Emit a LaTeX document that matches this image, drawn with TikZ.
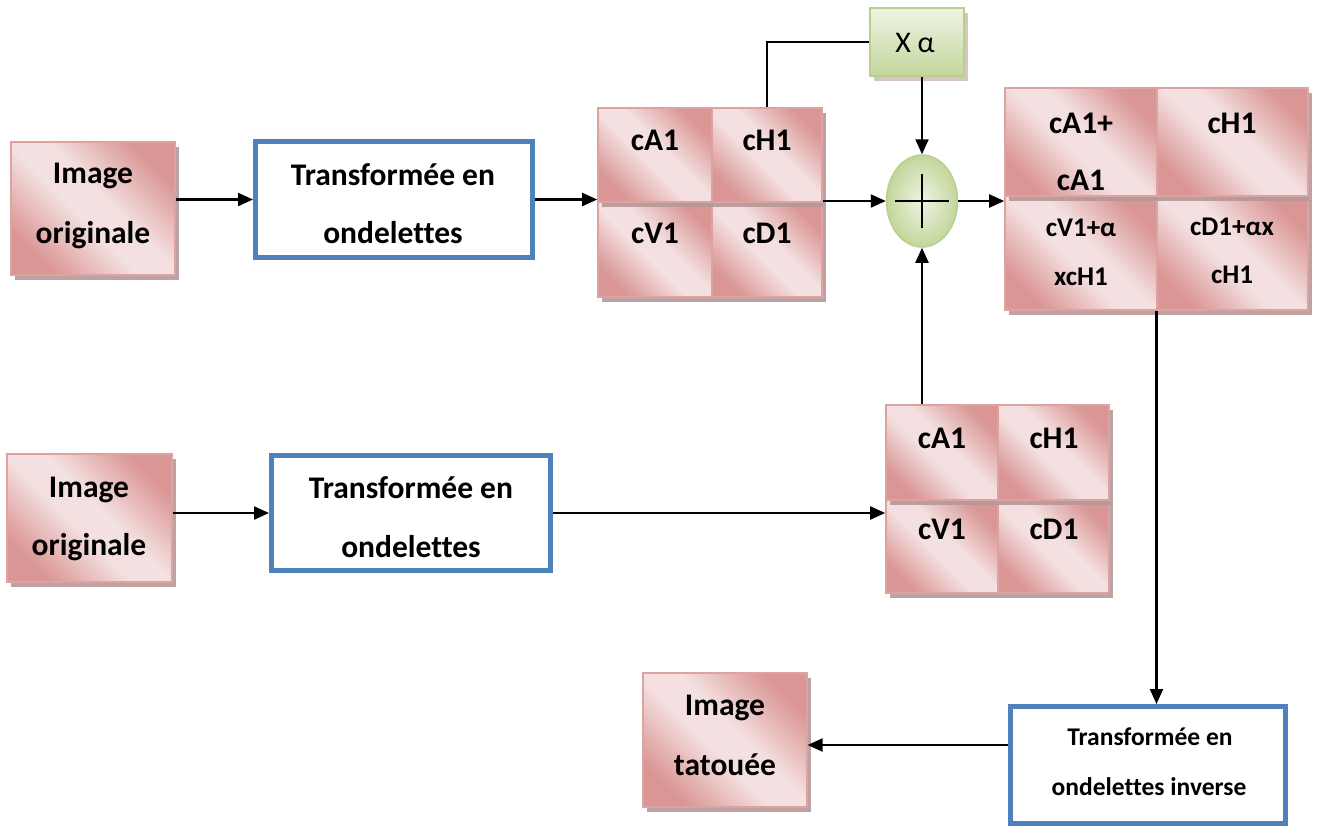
\documentclass[tikz,border=0pt]{standalone}
\usepackage{fontspec}
\setmainfont{Carlito}[Ligatures={NoCommon}]
\usetikzlibrary{shapes.geometric,shadows,fit,arrows.meta}
\definecolor{pinkdark}{HTML}{D99694}
\definecolor{pinklight}{HTML}{F4E0E0}
\definecolor{pinkborder}{HTML}{DDA3A2}
\definecolor{shadowc}{HTML}{B59898}
\definecolor{boxblue}{HTML}{4F81BD}
\definecolor{greenlight}{HTML}{EEF4E3}
\definecolor{greendark}{HTML}{C3D69B}
\definecolor{greenborder}{HTML}{B9CF8E}
\pgfdeclareverticalshading{pinksh}{100bp}{color(0bp)=(pinkdark); color(25bp)=(pinkdark); color(45bp)=(pinklight); color(55bp)=(pinklight); color(75bp)=(pinkdark); color(100bp)=(pinkdark)}
\begin{document}
\begin{tikzpicture}[x=1pt,y=-1pt,
  pinkbox/.style={draw=pinkborder, line width=1.2pt, shading=pinksh, shading angle=-45,
    drop shadow={shadow xshift=4pt, shadow yshift=-5pt, fill=shadowc, opacity=0.9}, inner sep=0pt},
  greenbox/.style={draw=greenborder, line width=1.2pt, top color=greenlight, bottom color=greendark,
    drop shadow={shadow xshift=4pt, shadow yshift=-5pt, fill=shadowc!70, opacity=0.8}, inner sep=0pt},
  bluebox/.style={draw=boxblue, line width=5pt, fill=white, inner sep=0pt},
  big/.style={font=\fontsize{31.5}{36}\selectfont\bfseries, text height=20.3pt, text depth=0pt, inner sep=0pt},
  mid/.style={font=\fontsize{27}{32}\selectfont\bfseries, text height=17.4pt, text depth=0pt, inner sep=0pt},
  small/.style={font=\fontsize{25.5}{30}\selectfont\bfseries, text height=16.4pt, text depth=0pt, inner sep=0pt},
  xalbl/.style={font=\fontsize{30}{34}\selectfont, text height=19.3pt, text depth=0pt, inner sep=0pt},
  plusnode/.style={ellipse, draw=greenborder, line width=1.5pt, inner color=greenlight, outer color=greendark,
    minimum width=71pt, minimum height=92pt, inner sep=0pt,
    path picture={\draw[black, line width=1.6pt] ([xshift=-27pt]path picture bounding box.center) -- ([xshift=27pt]path picture bounding box.center);
                  \draw[black, line width=1.6pt] ([yshift=-27pt]path picture bounding box.center) -- ([yshift=27pt]path picture bounding box.center);}},
  arr/.style={line width=2.2pt, -{Triangle[length=15pt,width=13pt]}},
  link/.style={line width=2.2pt},
]
\useasboundingbox[fill=white] (0,0) rectangle (1319,828);

% ---------- first row ----------
\node[pinkbox, fit={(11,142)(175,275)}] (img1) {};
\node[big] (img1a) at (93,173) {Image};
\node[big] (img1b) at (93,233) {originale};

\node[bluebox, fit={(255.5,141.5)(532.5,257.5)}] (t1) {};
\node[big] (t1a) at (393,175) {Transformée en};
\node[big] (t1b) at (393,233) {ondelettes};

\node[pinkbox, fit={(598,202)(712,297)}] (g1c) {};
\node[pinkbox, fit={(712,202)(822,297)}] (g1d) {};
\node[pinkbox, fit={(598,108)(712,202)}] (g1a) {};
\node[pinkbox, fit={(712,108)(822,202)}] (g1b) {};
\node[fit=(g1a)(g1d), inner sep=0pt] (g1) {};
\node[big] (g1at) at (655,140) {cA1};
\node[big] (g1bt) at (767,140) {cH1};
\node[big] (g1ct) at (655,233) {cV1};
\node[big] (g1dt) at (767,233) {cD1};

\node[greenbox, fit={(870,8)(964,76)}] (xa) {};
\node[xalbl] (xat) at (915,43) {X α};

\node[plusnode] (plus) at (922,201) {};

\node[pinkbox, fit={(1005,196)(1157,310)}] (rgc) {};
\node[pinkbox, fit={(1157,196)(1308,310)}] (rgd) {};
\node[pinkbox, fit={(1005,88)(1157,196)}] (rga) {};
\node[pinkbox, fit={(1157,88)(1308,196)}] (rgb) {};
\node[fit=(rga)(rgd), inner sep=0pt] (rg) {};
\node[big] (rgat1) at (1081,123) {cA1+};
\node[big] (rgat2) at (1081,180) {cA1};
\node[big] (rgbt) at (1232,123) {cH1};
\node[mid] (rgct1) at (1081,228) {cV1+α};
\node[mid] (rgct2) at (1081,277) {xcH1};
\node[mid] (rgdt1) at (1232,227) {cD1+αx};
\node[mid] (rgdt2) at (1232,275) {cH1};

% ---------- second row ----------
\node[pinkbox, fit={(7,454)(172,582)}] (img2) {};
\node[big] (img2a) at (89,487) {Image};
\node[big] (img2b) at (89,545) {originale};

\node[bluebox, fit={(271.5,455.5)(550.5,570.5)}] (t2) {};
\node[big] (t2a) at (411,488) {Transformée en};
\node[big] (t2b) at (411,547) {ondelettes};

\node[pinkbox, fit={(886,500)(998,593)}] (g2c) {};
\node[pinkbox, fit={(998,500)(1109,593)}] (g2d) {};
\node[pinkbox, fit={(886,405)(998,500)}] (g2a) {};
\node[pinkbox, fit={(998,405)(1109,500)}] (g2b) {};
\node[fit=(g2a)(g2d), inner sep=0pt] (g2) {};
\node[big] (g2at) at (942,438) {cA1};
\node[big] (g2bt) at (1054,438) {cH1};
\node[big] (g2ct) at (942,529) {cV1};
\node[big] (g2dt) at (1054,529) {cD1};

% ---------- third row ----------
\node[pinkbox, fit={(643,673)(807,807)}] (it) {};
\node[big] (ita) at (725,705) {Image};
\node[big] (itb) at (725,765) {tatouée};

\node[bluebox, fit={(1010.5,706.5)(1285.5,823.5)}] (tinv) {};
\node[small] (tinva) at (1150,737) {Transformée en};
\node[small] (tinvb) at (1149,787) {ondelettes inverse};

% ---------- connectors ----------
\draw[arr] (img1.east |- t1.west) -- (t1.west);
\draw[arr] (t1.east) -- (g1.west |- t1.east);
\draw[arr] (g1.east |- plus.west) -- (plus.west);
\draw[link] (g1b.north) |- (xa.west);
\draw[arr] (xa.south -| plus.north) -- (plus.north);
\draw[arr] (plus.east) -- (rg.west |- plus.east);
\draw[arr] (plus.south |- g2.north) -- (plus.south);
\draw[arr] (img2.east |- t2.west) -- (t2.west);
\draw[arr] (t2.east) -- (g2.west |- t2.east);
\draw[arr] (rg.south) -- (rg.south |- tinv.north);
\coordinate (ti) at ([yshift=-5pt]it.east);
\draw[arr] (tinv.west |- ti) -- (ti);
\end{tikzpicture}
\end{document}
